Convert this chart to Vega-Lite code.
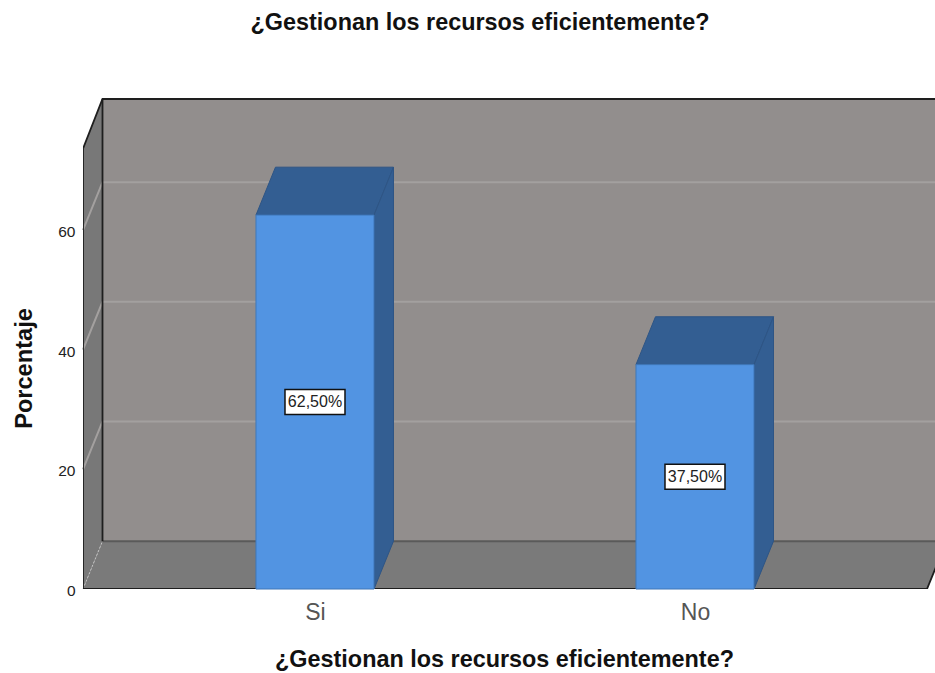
{"$schema":"https://vega.github.io/schema/vega-lite/v6.json","width":852,"height":499,"autosize":"none","padding":{"left":83,"top":90,"right":0,"bottom":84},"background":"white",
"title":{"text":"¿Gestionan los recursos eficientemente?","font":"Liberation Sans","fontSize":23.4,"fontWeight":"bold","color":"#111","anchor":"middle","dx":-29,"offset":55},
"config":{"view":{"stroke":null}},
"datasets":{
"barras":[{"categoria":"Si","valor":62.5},{"categoria":"No","valor":37.5}],
"caras":[
{"parte":"lateral","x":0.3895,"y":73.6,"y2":0},{"parte":"lateral","x":0.4408,"y":81.9,"y2":8},
{"parte":"fondo","x":0.4408,"y":81.9,"y2":8},{"parte":"fondo","x":2.6316,"y":81.9,"y2":8},
{"parte":"suelo","x":0.3895,"y":0,"y2":0},{"parte":"suelo","x":0.4408,"y":8,"y2":0},{"parte":"suelo","x":2.6105,"y":8,"y2":0},{"parte":"suelo","x":2.6618,"y":8,"y2":8}],
"lineas":[
{"tipo":"grid","id":"g20","x":0.3895,"y":20},{"tipo":"grid","id":"g20","x":0.4408,"y":28},{"tipo":"grid","id":"g20","x":2.6316,"y":28},
{"tipo":"grid","id":"g40","x":0.3895,"y":40},{"tipo":"grid","id":"g40","x":0.4408,"y":48},{"tipo":"grid","id":"g40","x":2.6316,"y":48},
{"tipo":"grid","id":"g60","x":0.3895,"y":60},{"tipo":"grid","id":"g60","x":0.4408,"y":68},{"tipo":"grid","id":"g60","x":2.6316,"y":68},
{"tipo":"esquina","id":"e","x":0.3895,"y":0},{"tipo":"esquina","id":"e","x":0.4408,"y":8},
{"tipo":"fondo","id":"f","x":0.4408,"y":8},{"tipo":"fondo","id":"f","x":2.6618,"y":8},
{"tipo":"borde","id":"b1","x":0.3895,"y":73.6},{"tipo":"borde","id":"b1","x":0.4408,"y":81.9},{"tipo":"borde","id":"b1","x":2.6316,"y":81.9},
{"tipo":"borde","id":"b2","x":0.4408,"y":81.9},{"tipo":"borde","id":"b2","x":0.4408,"y":8},
{"tipo":"borde","id":"b3","x":0.3895,"y":73.6},{"tipo":"borde","id":"b3","x":0.3895,"y":0},
{"tipo":"borde","id":"b4","x":0.3895,"y":0},{"tipo":"borde","id":"b4","x":2.6105,"y":0},{"tipo":"borde","id":"b4","x":2.6618,"y":8}]
},
"encoding":{
"x":{"field":"x","type":"quantitative","scale":{"domain":[0.3895,2.6316],"nice":false,"zero":false},
"axis":{"values":[1,2],"labelExpr":"datum.value==1?'Si':'No'","title":"¿Gestionan los recursos eficientemente?","grid":false,"domain":false,"ticks":false,"labelFont":"Liberation Sans","labelFontSize":23,"labelColor":"#555","labelPadding":12,"titleFont":"Liberation Sans","titleFontSize":23.4,"titleFontWeight":"bold","titleColor":"#111","titleX":421,"titleY":77,"titleBaseline":"alphabetic","titleAlign":"center"}},
"y":{"field":"y","type":"quantitative","scale":{"domain":[0,83.4],"nice":false},
"axis":{"values":[0,20,40,60],"title":"Porcentaje","grid":false,"domain":false,"ticks":false,"labelFont":"Liberation Sans","labelFontSize":15.5,"labelColor":"#222","labelPadding":8,"labelOffset":1.5,"titleFont":"Liberation Sans","titleFontSize":23.6,"titleFontWeight":"bold","titleColor":"#111","titleX":-47,"titleY":278,"titleAlign":"center"}}
},
"layer":[
{"data":{"name":"caras"},"transform":[{"filter":"datum.parte=='lateral'"}],"mark":{"type":"area","color":"#787878"},"encoding":{"y2":{"field":"y2"}}},
{"data":{"name":"caras"},"transform":[{"filter":"datum.parte=='fondo'"}],"mark":{"type":"area","color":"#928E8D"},"encoding":{"y2":{"field":"y2"}}},
{"data":{"name":"caras"},"transform":[{"filter":"datum.parte=='suelo'"}],"mark":{"type":"area","color":"#7A7A7A","clip":true},"encoding":{"y2":{"field":"y2"}}},
{"data":{"name":"lineas"},"transform":[{"filter":"datum.tipo=='grid'"}],"mark":{"type":"line","color":"#A3A09F","strokeWidth":2},"encoding":{"detail":{"field":"id"}}},
{"data":{"name":"lineas"},"transform":[{"filter":"datum.tipo=='esquina'"}],"mark":{"type":"line","color":"#C4C4C4","strokeWidth":1,"strokeDash":[2,2]},"encoding":{"detail":{"field":"id"}}},
{"data":{"name":"lineas"},"transform":[{"filter":"datum.tipo=='fondo'"}],"mark":{"type":"line","color":"#5A5A5A","strokeWidth":2,"clip":true},"encoding":{"detail":{"field":"id"}}},
{"data":{"name":"lineas"},"transform":[{"filter":"datum.tipo=='borde'"}],"mark":{"type":"line","color":"#1E1E1E","strokeWidth":1.8,"clip":true},"encoding":{"detail":{"field":"id"}}},
{"data":{"name":"barras"},"transform":[{"calculate":"indexof(['Si','No'],datum.categoria)+1","as":"pos"},{"calculate":"[0,1,2,3]","as":"k"},{"flatten":["k"]},{"calculate":"datum.k==0?datum.pos-0.1553:datum.k==1?datum.pos-0.104:datum.k==2?datum.pos+0.1553:datum.pos+0.2066","as":"x"},{"calculate":"datum.k==0?datum.valor:datum.valor+8","as":"y"},{"calculate":"datum.k==3?datum.valor+8:datum.valor","as":"y2"}],"mark":{"type":"area","color":"#335E92","stroke":"#2E5585","strokeWidth":1},"encoding":{"detail":{"field":"categoria"},"y2":{"field":"y2"}}},
{"data":{"name":"barras"},"transform":[{"calculate":"indexof(['Si','No'],datum.categoria)+1","as":"pos"},{"calculate":"[0,1]","as":"k"},{"flatten":["k"]},{"calculate":"datum.pos+0.1553+datum.k*0.0513","as":"x"},{"calculate":"datum.valor+datum.k*8","as":"y"},{"calculate":"datum.k*8","as":"y2"}],"mark":{"type":"area","color":"#335E92","stroke":"#2E5585","strokeWidth":1},"encoding":{"detail":{"field":"categoria"},"y2":{"field":"y2"}}},
{"data":{"name":"barras"},"transform":[{"calculate":"indexof(['Si','No'],datum.categoria)+1","as":"pos"},{"calculate":"datum.pos-0.1553","as":"x"},{"calculate":"datum.pos+0.1553","as":"x2"},{"calculate":"datum.valor","as":"y"},{"calculate":"0","as":"y2"}],"mark":{"type":"rect","color":"#5294E2","stroke":"#3F77B8","strokeWidth":1},"encoding":{"x2":{"field":"x2"},"y2":{"field":"y2"}}},
{"data":{"name":"barras"},"transform":[{"calculate":"indexof(['Si','No'],datum.categoria)+1","as":"x"},{"calculate":"datum.valor/2","as":"y"}],"mark":{"type":"rect","width":60,"height":25,"color":"white","stroke":"#111","strokeWidth":1.5},"encoding":{}},
{"data":{"name":"barras"},"transform":[{"calculate":"indexof(['Si','No'],datum.categoria)+1","as":"x"},{"calculate":"datum.valor/2","as":"y"},{"calculate":"replace(format(datum.valor,'.2f'),'.',',')+'%'","as":"etiqueta"}],"mark":{"type":"text","font":"Liberation Sans","fontSize":16,"color":"#222"},"encoding":{"text":{"field":"etiqueta"}}}
]}
